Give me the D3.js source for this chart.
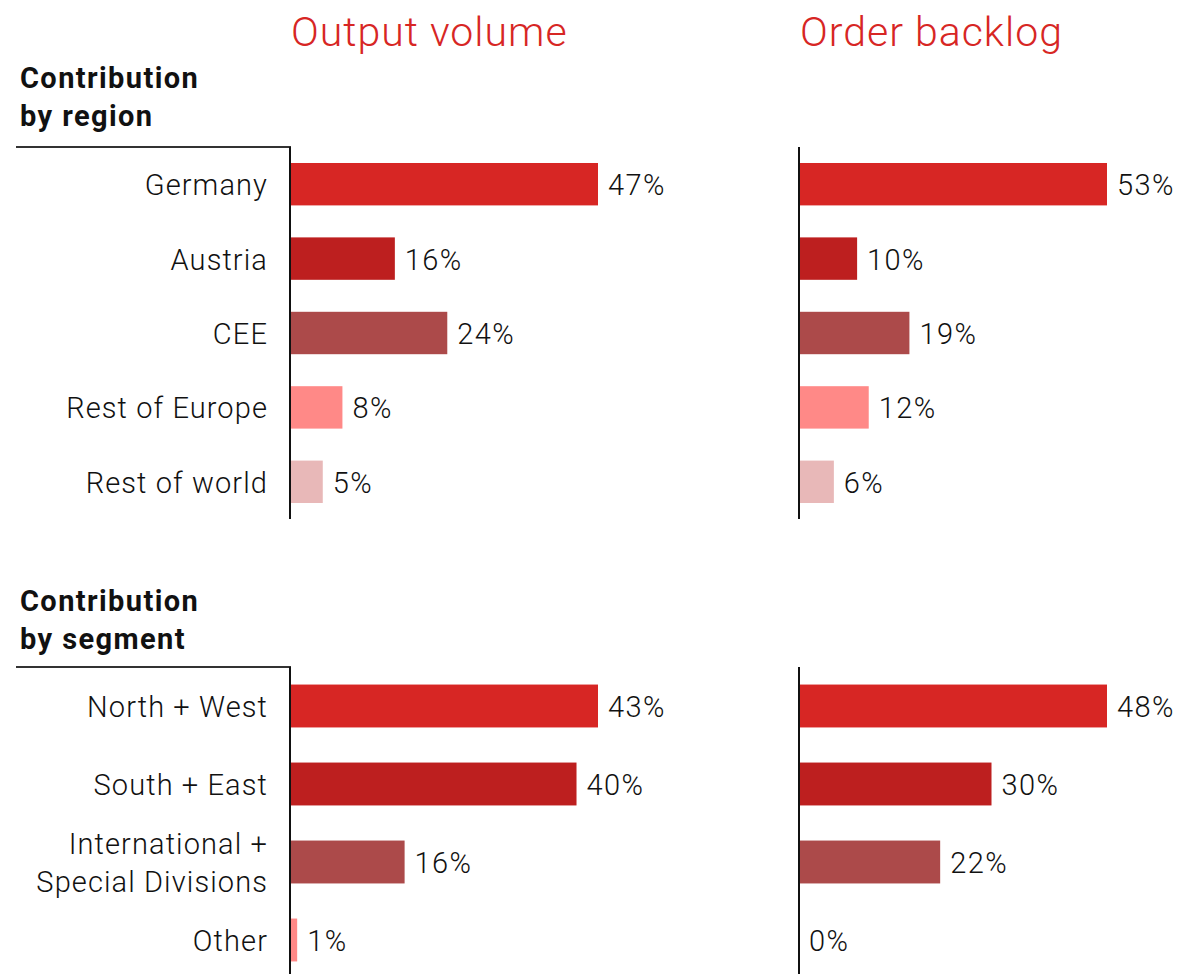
<!DOCTYPE html>
<html><head><meta charset="utf-8">
<script src="https://cdn.jsdelivr.net/npm/d3@7"></script>
<style>
body{margin:0;background:#fff;}
text{font-family:Roboto, "Noto Sans", sans-serif;}
</style></head>
<body><svg id="c" width="1183" height="974"></svg>
<script>
const columnTitles = ["Output volume", "Order backlog"];
const regionCategories = ["Germany", "Austria", "CEE", "Rest of Europe", "Rest of world"];
const regionOutput = [47, 16, 24, 8, 5];
const regionBacklog = [53, 10, 19, 12, 6];
const segmentCategories = [["North + West"], ["South + East"], ["International +", "Special Divisions"], ["Other"]];
const segmentOutput = [43, 40, 16, 1];
const segmentBacklog = [48, 30, 22, 0];
const regionColors = ["#d72624", "#bd1f1f", "#ac4a4a", "#ff8987", "#e8b8b8"];
const segmentColors = ["#d72624", "#bd1f1f", "#ac4a4a", "#ff8987"];

const svg = d3.select("#c");
const colX = [290, 799];
const barMax = 308;

// column titles
svg.selectAll(".ctitle").data(columnTitles).join("text")
  .attr("x", (d,i)=> i===0 ? 291 : 800).attr("y", 46)
  .attr("fill", "#d72624").attr("font-size", 41).attr("font-weight", 300)
  .attr("letter-spacing", 1).text(d=>d);

function panel(title, cats, seriesArr, colors, y0, y1, headY, pad) {
  svg.append("text").attr("x", 20).attr("y", headY).attr("font-size", 29)
    .attr("font-weight", "bold").attr("fill", "#111").attr("letter-spacing", 1.4)
    .selectAll("tspan").data(title).join("tspan")
    .attr("x", 20).attr("dy", (d,i)=> i===0 ? 0 : 38).text(d=>d);
  const y = d3.scaleBand().domain(d3.range(cats.length)).range([y0, y1]).paddingInner(pad).paddingOuter(pad/2);
  // category labels
  cats.forEach((lines, i) => {
    const cy = y(i) + y.bandwidth()/2;
    const t = svg.append("text").attr("text-anchor", "end").attr("font-size", 29)
      .attr("font-weight", 300).attr("letter-spacing", 1.1).attr("fill", "#111");
    const n = lines.length;
    lines.forEach((ln, k) => {
      t.append("tspan").attr("x", 268).attr("y", cy + 11 + (k - (n-1)/2) * 38).text(ln);
    });
  });
  // horizontal top line
  svg.append("line").attr("x1", 16).attr("x2", 291).attr("y1", y0).attr("y2", y0)
    .attr("stroke", "#333").attr("stroke-width", 2);
  seriesArr.forEach((vals, c) => {
    const x = d3.scaleLinear().domain([0, d3.max(vals)]).range([0, barMax]);
    const g = svg.append("g").attr("transform", `translate(${colX[c]},0)`);
    g.selectAll("rect").data(vals).join("rect")
      .attr("x", 0).attr("y", (d,i)=>y(i)).attr("height", y.bandwidth())
      .attr("width", d=>x(d)).attr("fill", (d,i)=>colors[i]);
    g.selectAll("text.v").data(vals).join("text").attr("class","v")
      .attr("x", d=> x(d) + 10).attr("y", (d,i)=> y(i) + y.bandwidth()/2 + 11)
      .attr("font-size", 29).attr("font-weight", 300).attr("letter-spacing", 1.4)
      .attr("fill", "#111").text(d=>d + "%");
    g.append("line").attr("x1", 0).attr("x2", 0).attr("y1", y0).attr("y2", Math.min(y1, 974))
      .attr("stroke", "#111").attr("stroke-width", 2);
  });
}

panel(["Contribution", "by region"], regionCategories.map(d=>[d]), [regionOutput, regionBacklog], regionColors, 147, 519, 88, 0.43);
panel(["Contribution", "by segment"], segmentCategories, [segmentOutput, segmentBacklog], segmentColors, 667, 979, 611, 0.45);
</script></body></html>
